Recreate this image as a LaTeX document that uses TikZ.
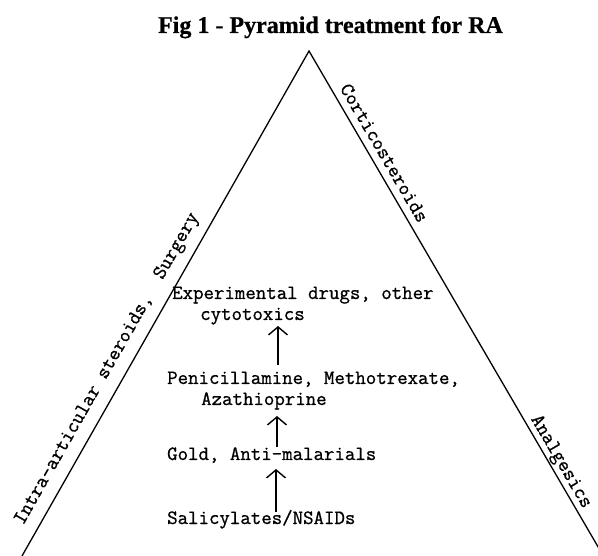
\documentclass[tikz,border=0pt]{standalone}
\usepackage{fontspec}
\newfontfamily\titlefont{Liberation Serif}[FakeBold=0.6]
\newfontfamily\twfont{Latin Modern Mono}[FakeBold=0.9]
\usetikzlibrary{arrows.meta}
\tikzset{
  side/.style={line width=1.3pt, black},
  txt/.style={inner sep=0pt, anchor=base west, font=\twfont\fontsize{20.3}{24}\selectfont},
  sidelabel/.style={inner sep=0pt, anchor=base, font=\twfont\fontsize{20.3}{24}\selectfont},
  uparrow/.style={line width=1.4pt, -{Straight Barb[length=8pt,width=19pt,line width=1.4pt]}},
}
\begin{document}
\begin{tikzpicture}[x=1pt, y=-1pt]
\useasboundingbox (0,0) rectangle (598,556);
\clip (0,0) rectangle (598,556);
\fill[white] (0,0) rectangle (598,556);
% title
\node[inner sep=0pt, anchor=base, font=\titlefont\bfseries\fontsize{24}{28}\selectfont] (title) at (330.5,33) {Fig 1 - Pyramid treatment for RA};
% triangle
\coordinate (apex) at (309,51);
\coordinate (bl) at (22,556);
\coordinate (br) at (603.4,556);
\draw[side] (bl) -- (apex) -- (br);
% side labels
\node[sidelabel, rotate=60.4] (left) at (111,371) {Intra-articular steroids,\ \ Surgery};
\node[sidelabel, rotate=-59.76] (cort) at (379,156) {Corticosteroids};
\node[sidelabel, rotate=-59.76] (analg) at (557,464) {Analgesics};
% inner texts
\node[txt] (exp1) at (172,299) {Experimental drugs, other};
\node[txt] (exp2) at (200,320) {cytotoxics};
\node[txt] (pen1) at (167,384) {Penicillamine, Methotrexate,};
\node[txt] (pen2) at (201,405) {Azathioprine};
\node[txt] (gold) at (167,460) {Gold, Anti-malarials};
\node[txt] (sal) at (167,524) {Salicylates/NSAIDs};
% arrows
\coordinate (a1s) at (278,365);
\coordinate (a1e) at (278,326);
\coordinate (a2s) at (277,447);
\coordinate (a2e) at (277,416);
\coordinate (a3s) at (276,512);
\coordinate (a3e) at (276,469);
\draw[uparrow] (a1s) -- (a1e);
\draw[uparrow] (a2s) -- (a2e);
\draw[uparrow] (a3s) -- (a3e);
\end{tikzpicture}
\end{document}
